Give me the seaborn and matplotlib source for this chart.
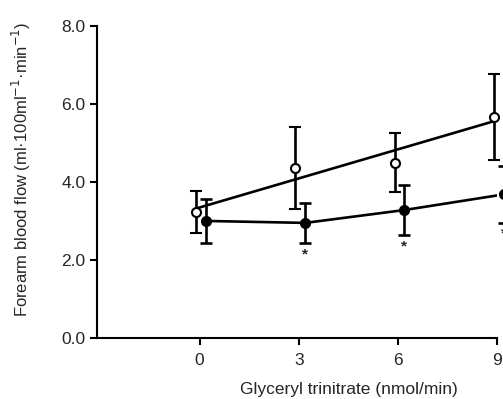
import numpy as np
import pandas as pd
import seaborn as sns
from matplotlib import pyplot as plt

# dose (nmol/min) and forearm blood flow
doses = [0, 3, 6, 9]
open_mean = [3.23, 4.36, 4.49, 5.67]
open_err = [0.53, 1.05, 0.76, 1.10]
filled_mean = [3.00, 2.95, 3.28, 3.68]
filled_err = [0.57, 0.52, 0.65, 0.72]
star_doses = [3, 6, 9]

sns.set_style('ticks')
plt.rcParams['font.family'] = ['Liberation Sans', 'DejaVu Sans']

fig = plt.figure(figsize=(5.03, 3.99), dpi=100)
ax = fig.add_axes([0.193, 0.153, 0.795, 0.782])

x_open = np.array(doses) - 0.1
x_filled = np.array(doses) + 0.2
df_open = pd.DataFrame({'x': x_open, 'y': open_mean})
df_filled = pd.DataFrame({'x': x_filled, 'y': filled_mean})

# regression line through open circles
sns.regplot(data=df_open, x='x', y='y', scatter=False, ci=None, ax=ax,
            line_kws=dict(color='black', lw=1.9), truncate=True)
sns.lineplot(data=df_filled, x='x', y='y', ax=ax, color='black', lw=1.9)

ax.errorbar(x_open, open_mean, yerr=open_err, fmt='o', color='black',
            mfc='white', mec='black', mew=1.5, ms=6.5, elinewidth=1.9,
            capsize=4.5, capthick=1.9, clip_on=False, zorder=4)
ax.errorbar(x_filled, filled_mean, yerr=filled_err, fmt='o', color='black',
            ms=7, elinewidth=1.9, capsize=4.5, capthick=1.9, clip_on=False,
            zorder=5)

for d in star_doses:
    i = doses.index(d)
    ax.text(x_filled[i], filled_mean[i] - filled_err[i] - 0.1, '*',
            ha='center', va='top', fontsize=11, fontweight='bold')

ax.set_xlim(-3.1, 9)
ax.set_ylim(0, 8)
ax.set_xticks(doses)
ax.set_xticklabels([str(d) for d in doses])
ax.set_yticks([0, 2, 4, 6, 8])
ax.set_yticklabels(['0.0', '2.0', '4.0', '6.0', '8.0'])
ax.tick_params(labelsize=12.5, width=1.5, length=5, color='black')
ax.tick_params(axis='x', pad=6)
for s in ['left', 'bottom']:
    ax.spines[s].set_linewidth(1.5)
    ax.spines[s].set_color('black')
sns.despine(ax=ax)

ax.set_xlabel('Glyceryl trinitrate (nmol/min)', fontsize=12.5)
ax.set_ylabel('Forearm blood flow (ml·100ml$^{-1}$·min$^{-1}$)', fontsize=12)
ax.xaxis.set_label_coords(0.63, -0.142)
ax.yaxis.set_label_coords(-0.16, 0.54)

fig.savefig('out.png', dpi=100)
